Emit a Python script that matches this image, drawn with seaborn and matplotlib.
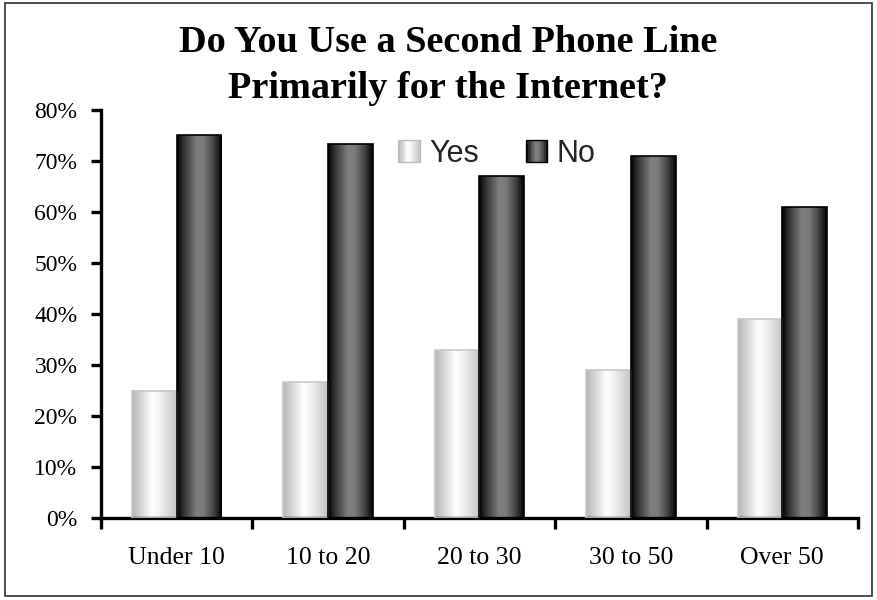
import numpy as np
import pandas as pd
import matplotlib
matplotlib.use("Agg")
import matplotlib.pyplot as plt
import seaborn as sns
from matplotlib.patches import Rectangle
from matplotlib.legend_handler import HandlerBase
from matplotlib.colors import LinearSegmentedColormap

# Survey data: share of respondents by category
categories = ["Under 10", "10 to 20", "20 to 30", "30 to 50", "Over 50"]
yes_share = [25.0, 26.7, 33.0, 29.0, 39.0]
no_share = [75.0, 73.3, 67.0, 71.0, 61.0]
series_names = ["Yes", "No"]
y_ticks = [0, 10, 20, 30, 40, 50, 60, 70, 80]

df = pd.DataFrame({
    "category": categories * 2,
    "answer": ["Yes"] * len(categories) + ["No"] * len(categories),
    "share": yes_share + no_share,
})

# Horizontal shading used to give the bars a cylindrical look
yes_cmap = LinearSegmentedColormap.from_list(
    "yes_shade", [(0.0, "#b4b4b4"), (0.25, "#dedede"), (0.45, "#ffffff"),
                  (0.6, "#f4f4f4"), (0.85, "#d6d6d6"), (1.0, "#c4c4c4")])
no_cmap = LinearSegmentedColormap.from_list(
    "no_shade", [(0.0, "#000000"), (0.12, "#2a2a2a"), (0.3, "#5a5a5a"),
                 (0.45, "#808080"), (0.6, "#7a7a7a"), (0.8, "#484848"),
                 (0.92, "#1e1e1e"), (1.0, "#000000")])
shade = {"Yes": yes_cmap, "No": no_cmap}
edge = {"Yes": "#c8c8c8", "No": "#000000"}

sns.set_theme(style="white")
plt.rcParams["font.family"] = ["Liberation Serif", "DejaVu Serif"]

fig = plt.figure(figsize=(8.78, 6.0), dpi=100)
ax = fig.add_axes([101 / 878, 1 - 518 / 600, 757 / 878, 408 / 600])

sns.barplot(data=df, x="category", y="share", hue="answer",
            hue_order=series_names, order=categories, width=0.59,
            palette={"Yes": "#e0e0e0", "No": "#606060"},
            saturation=1, ax=ax, legend=False)

# Replace each flat bar fill with a gradient strip clipped to the bar
grad = np.linspace(0, 1, 256).reshape(1, -1)
n = len(categories)
for i, patch in enumerate(ax.patches[: 2 * n]):
    name = series_names[i // n]
    x0, y0 = patch.get_x(), patch.get_y()
    w, h = patch.get_width(), patch.get_height()
    im = ax.imshow(grad, cmap=shade[name], aspect="auto",
                   extent=[x0, x0 + w, y0, y0 + h], zorder=2,
                   interpolation="bilinear")
    im.set_clip_path(patch)
    patch.set_facecolor("none")
    patch.set_edgecolor(edge[name])
    patch.set_linewidth(1.2)
    patch.set_zorder(3)

ax.set_xlim(-0.5, n - 0.5)
ax.set_ylim(0, 80)
ax.set_xlabel("")
ax.set_ylabel("")

ax.set_yticks(y_ticks)
ax.set_yticklabels([f"{v}%" for v in y_ticks])
ax.set_xticks(range(n))
ax.set_xticklabels(categories)
ax.set_xticks(np.arange(-0.5, n, 1.0), minor=True)

for side in ("top", "right"):
    ax.spines[side].set_visible(False)
for side in ("left", "bottom"):
    ax.spines[side].set_color("black")
    ax.spines[side].set_linewidth(2.4)

ax.tick_params(axis="y", which="major", direction="out", length=7, width=2.4,
               color="black", labelsize=17, labelcolor="black", pad=10, left=True)
ax.tick_params(axis="x", which="major", length=0, labelsize=18.5,
               labelcolor="black", pad=21)
ax.tick_params(axis="x", which="minor", direction="out", length=8, width=2.4,
               color="black", bottom=True)
ax.grid(False)
ax.set_facecolor("white")


class GradientSwatch(HandlerBase):
    def __init__(self, cmap, edgecolor):
        super().__init__()
        self.cmap = cmap
        self.edgecolor = edgecolor

    def create_artists(self, legend, orig_handle, xdescent, ydescent,
                       width, height, fontsize, trans):
        size = min(width, height)
        x0 = -xdescent + (width - size)
        y0 = -ydescent + (height - size) / 2
        strips = 12
        artists = []
        for k in range(strips):
            c = self.cmap((k + 0.5) / strips)
            artists.append(Rectangle((x0 + k * size / strips, y0), size / strips,
                                     size, facecolor=c, edgecolor="none",
                                     transform=trans))
        artists.append(Rectangle((x0, y0), size, size, facecolor="none",
                                 edgecolor=self.edgecolor, linewidth=1.0,
                                 transform=trans))
        return artists


handles = [Rectangle((0, 0), 1, 1), Rectangle((0, 0), 1, 1)]
leg = ax.legend(handles, series_names, ncol=2, frameon=False,
                loc="center", bbox_to_anchor=(0.523, 0.893),
                prop={"family": ["Liberation Sans", "DejaVu Sans"], "size": 22},
                handlelength=0.7, handleheight=0.7, handletextpad=0.3,
                columnspacing=1.55,
                handler_map={handles[0]: GradientSwatch(yes_cmap, "#bdbdbd"),
                             handles[1]: GradientSwatch(no_cmap, "#000000")})

# Two-line chart title
title_font = {"family": ["Liberation Serif", "DejaVu Serif"],
              "weight": "bold", "size": 27.5}
fig.text(448 / 878, 1 - 42 / 600, "Do You Use a Second Phone Line",
         ha="center", va="center", color="black", **title_font)
fig.text(448 / 878, 1 - 88 / 600, "Primarily for the Internet?",
         ha="center", va="center", color="black", **title_font)

# Thin frame around the whole chart area
fig.patches.append(Rectangle((5 / 878, 4 / 600), 867 / 878, 593 / 600,
                             transform=fig.transFigure, facecolor="none",
                             edgecolor="#303030", linewidth=1.2))

fig.savefig("out.png", dpi=100, facecolor="white")
